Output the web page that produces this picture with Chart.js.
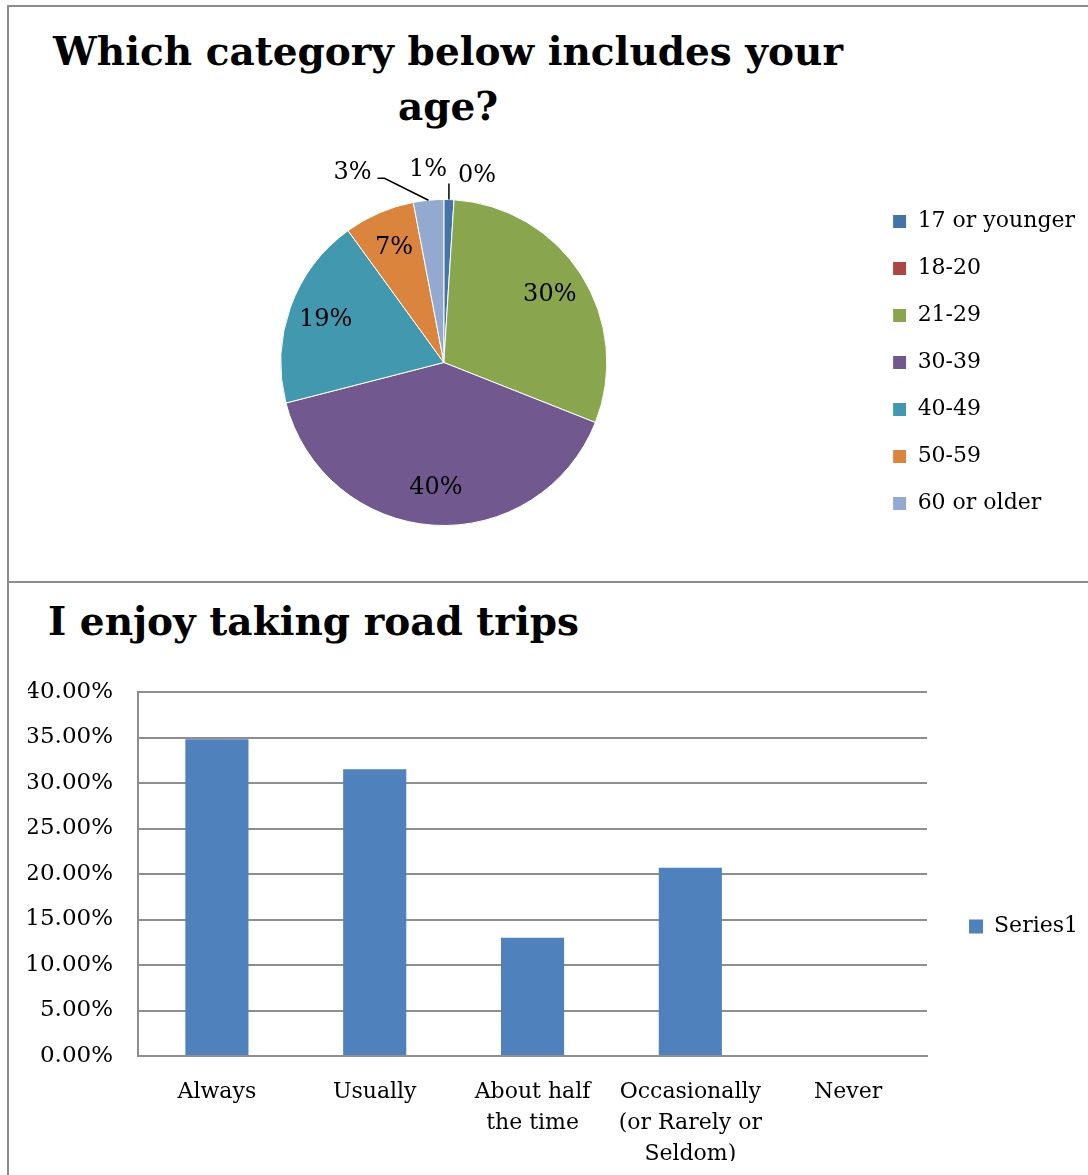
<!DOCTYPE html>
<html>
<head>
<meta charset="utf-8">
<title>Survey results</title>
<script src="https://cdn.jsdelivr.net/npm/chart.js@4.4.1/dist/chart.umd.min.js"></script>
<style>
  html, body { margin: 0; padding: 0; background: #fff; }
  body {
    position: relative;
    width: 1088px;
    height: 1175px;
    overflow: hidden;
    font-family: "DejaVu Serif", serif;
  }
  .panel-top {
    position: absolute; left: 7px; top: 5px;
    width: 1200px; height: 574px;
    border: 2px solid #8c8c8c;
  }
  .panel-bottom {
    position: absolute; left: 7px; top: 581px;
    width: 1200px; height: 700px;
    border-left: 2px solid #8c8c8c;
  }
  .title {
    position: absolute;
    font-weight: bold;
    font-size: 39px;
    line-height: 55px;
    color: #000;
    white-space: nowrap;
  }
  #pieTitle { left: 0; width: 896px; top: 24px; text-align: center; }
  #barTitle { left: 48px; top: 594px; }
  canvas { position: absolute; }
  #pieChart { left: 0; top: 140px; }
  #barChart { left: 0; top: 582px; }
</style>
</head>
<body>
<div class="panel-top"></div>
<div class="panel-bottom"></div>
<div class="title" id="pieTitle">Which category below includes your<br>age?</div>
<div class="title" id="barTitle">I enjoy taking road trips</div>
<canvas id="pieChart" width="1110" height="440"></canvas>
<canvas id="barChart" width="1120" height="593"></canvas>

<script>
// Age question (percent of respondents)
const ageGroups = ["17 or younger", "18-20", "21-29", "30-39", "40-49", "50-59", "60 or older"];
const agePercents = [1, 0, 30, 40, 19, 7, 3];
const ageColors = ["#4572A7", "#AA4643", "#89A54E", "#71588F", "#4198AF", "#DB843D", "#93A9CF"];

// Road trip question (percent of respondents)
const tripAnswers = [
  ["Always"],
  ["Usually"],
  ["About half", "the time"],
  ["Occasionally", "(or Rarely or", "Seldom)"],
  ["Never"]
];
const tripPercents = [34.8, 31.5, 13.0, 20.7, 0];
const tripTicks = [0, 5, 10, 15, 20, 25, 30, 35, 40];

const FONT = "'DejaVu Serif', serif";
const GRID = "#8e8e8e";

Chart.defaults.font.family = FONT;
Chart.defaults.color = "#000";

// Labels for small slices sit outside the pie, with optional leader lines
const calloutStyle = {
  0: { dx: -21, dy: -30, line: [[0, 0], [0, -16]] },
  1: { dx: 23, dy: -24, line: null },
  6: { dx: -76, dy: -27, line: [[0, 0], [-44, -22], [-51, -22]] }
};

const pieLabels = {
  id: "pieLabels",
  afterDatasetsDraw(chart) {
    const ctx = chart.ctx;
    const meta = chart.getDatasetMeta(0);
    const data = chart.data.datasets[0].data;
    ctx.save();
    ctx.font = "24px " + FONT;
    ctx.fillStyle = "#000";
    ctx.textAlign = "center";
    ctx.textBaseline = "middle";
    meta.data.forEach((arc, i) => {
      const p = arc.getProps(["x", "y", "startAngle", "endAngle", "outerRadius"], true);
      const mid = (p.startAngle + p.endAngle) / 2;
      const text = data[i] + "%";
      const c = calloutStyle[i];
      if (!c) {
        const r = p.outerRadius * 0.77;
        ctx.fillText(text, p.x + Math.cos(mid) * r, p.y + Math.sin(mid) * r);
        return;
      }
      const ax = p.x + Math.cos(mid) * p.outerRadius;
      const ay = p.y + Math.sin(mid) * p.outerRadius;
      if (c.line) {
        ctx.beginPath();
        ctx.strokeStyle = "#000";
        ctx.lineWidth = 1.5;
        c.line.forEach(([lx, ly], k) => {
          if (k === 0) ctx.moveTo(ax + lx, ay + ly);
          else ctx.lineTo(ax + lx, ay + ly);
        });
        ctx.stroke();
      }
      ctx.fillText(text, ax + c.dx, ay + c.dy);
    });
    ctx.restore();
  }
};

new Chart(document.getElementById("pieChart"), {
  type: "pie",
  data: {
    labels: ageGroups,
    datasets: [{
      data: agePercents,
      backgroundColor: ageColors,
      borderColor: "#ffffff",
      borderWidth: 1
    }]
  },
  options: {
    responsive: false,
    animation: false,
    radius: 163,
    layout: { padding: { left: 20, right: 25, top: 5, bottom: 0 } },
    plugins: {
      legend: {
        position: "right",
        labels: {
          font: { family: FONT, size: 22 },
          color: "#000",
          boxWidth: 14,
          boxHeight: 14,
          padding: 25
        }
      },
      tooltip: { enabled: false }
    }
  },
  plugins: [pieLabels]
});

new Chart(document.getElementById("barChart"), {
  type: "bar",
  data: {
    labels: tripAnswers,
    datasets: [{
      label: "Series1",
      data: tripPercents,
      backgroundColor: "#4F81BD",
      barPercentage: 0.4,
      categoryPercentage: 1
    }]
  },
  options: {
    responsive: false,
    animation: false,
    layout: { padding: { left: 28, right: 32, top: 110, bottom: 14 } },
    scales: {
      y: {
        min: tripTicks[0],
        max: tripTicks[tripTicks.length - 1],
        afterBuildTicks(scale) {
          scale.ticks = tripTicks.map(v => ({ value: v }));
        },
        afterFit(scale) { scale.width = 110; },
        ticks: {
          font: { size: 23 },
          color: "#000",
          padding: 25,
          callback: v => v.toFixed(2) + "%"
        },
        grid: { color: GRID, lineWidth: 2, drawTicks: false },
        border: { color: GRID, width: 2 }
      },
      x: {
        afterFit(scale) { scale.height = 105; },
        ticks: {
          font: { size: 22, lineHeight: 1.4 },
          color: "#000",
          padding: 13,
          maxRotation: 0,
          minRotation: 0,
          autoSkip: false
        },
        grid: { display: false },
        border: { color: GRID, width: 2 }
      }
    },
    plugins: {
      legend: {
        position: "right",
        labels: {
          font: { family: FONT, size: 22 },
          color: "#000",
          boxWidth: 14,
          boxHeight: 14,
          padding: 42
        }
      },
      tooltip: { enabled: false }
    }
  }
});
</script>
</body>
</html>
